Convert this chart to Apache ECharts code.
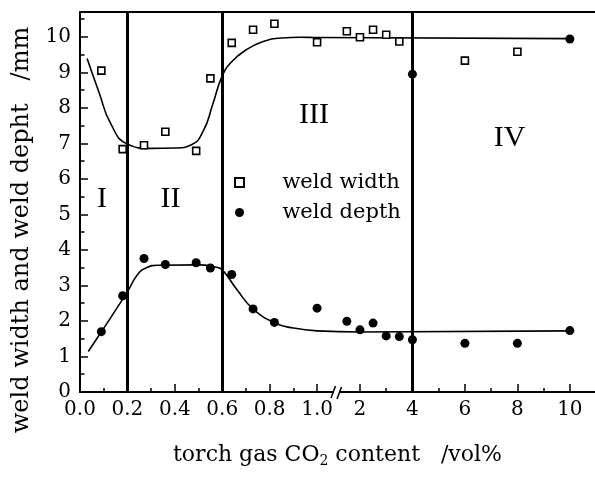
<!DOCTYPE html>
<html><head><meta charset="utf-8">
<script src="https://cdn.jsdelivr.net/npm/echarts@6/dist/echarts.min.js"></script>
<style>html,body{margin:0;padding:0;background:#fff}#c{width:595px;height:477px}</style>
</head><body><div id="c"></div>
<script>
// ---- data ----
const widthX = [0.09, 0.18, 0.27, 0.36, 0.49, 0.55, 0.64, 0.73, 0.82, 1.0, 1.5, 2, 2.5, 3, 3.5, 6, 8];
const widthY = [9.05, 6.84, 6.95, 7.33, 6.79, 8.83, 9.83, 10.2, 10.37, 9.85, 10.16, 9.99, 10.2, 10.06, 9.87, 9.33, 9.58];
const widthFilledX = [4, 10];
const widthFilledY = [8.95, 9.94];
const depthX = [0.09, 0.18, 0.27, 0.36, 0.49, 0.55, 0.64, 0.73, 0.82, 1.0, 1.5, 2, 2.5, 3, 3.5, 4, 6, 8, 10];
const depthY = [1.70, 2.71, 3.76, 3.59, 3.64, 3.49, 3.31, 2.34, 1.96, 2.36, 1.99, 1.75, 1.94, 1.58, 1.56, 1.47, 1.37, 1.37, 1.73];
const widthFitX = [0.03, 0.08, 0.13, 0.2, 0.3, 0.4, 0.47, 0.52, 0.56, 0.6, 0.64, 0.7, 0.77, 0.85, 0.93, 1.0, 10];
const widthFitY = [9.39, 8.44, 7.55, 6.98, 6.86, 6.87, 6.96, 7.35, 8.1, 8.9, 9.3, 9.63, 9.86, 9.97, 9.99, 9.98, 9.95];
const depthFitX = [0.035, 0.2, 0.24, 0.28, 0.33, 0.5, 0.57, 0.6, 0.66, 0.73, 0.82, 0.9, 1.0, 2, 10];
const depthFitY = [1.14, 2.82, 3.28, 3.5, 3.57, 3.58, 3.52, 3.44, 2.9, 2.34, 1.95, 1.80, 1.72, 1.69, 1.72];
const regionBounds = [0.2, 0.6, 4];
const regionNames = ['I', 'II', 'III', 'IV'];
const regionLabelX = [0.093, 0.382, 0.987, 7.70];
const regionLabelY = [5.42, 5.42, 7.79, 7.16];
const xTickValues = [0, 0.2, 0.4, 0.6, 0.8, 1.0, 2, 4, 6, 8, 10];
const xTickLabels = ['0.0', '0.2', '0.4', '0.6', '0.8', '1.0', '2', '4', '6', '8', '10'];
const xMinorValues = [0.1, 0.3, 0.5, 0.7, 0.9, 3, 5, 7, 9];
const yTickValues = [0, 1, 2, 3, 4, 5, 6, 7, 8, 9, 10];
const yMinorValues = [0.5, 1.5, 2.5, 3.5, 4.5, 5.5, 6.5, 7.5, 8.5, 9.5, 10.5];

// ---- broken x scale (linear 0..1, break, linear 1..10) ----
const BREAK = 1.0;
const LEFT_UNIT = 238;
const RIGHT_START = 254.7;
const RIGHT_UNIT = 26.34;
const X_EXTENT = 517;
const BREAK_MARK_U = 258;
function toU(x) { return x <= BREAK ? x * LEFT_UNIT : RIGHT_START + (x - BREAK) * RIGHT_UNIT; }
const pairs = (xs, ys) => xs.map((x, i) => [toU(x), ys[i]]);

const SERIF = 'DejaVu Serif';
const black = '#000';

const chart = echarts.init(document.getElementById('c'), null, {renderer: 'canvas'});
const xCommon = {type: 'value', min: 0, max: X_EXTENT, splitLine: {show: false}};
const yCommon = {type: 'value', min: 0, max: 10.7, splitLine: {show: false}};

chart.setOption({
  animation: false,
  backgroundColor: '#fff',
  grid: {left: 80, right: -2, top: 12, bottom: 85},
  legend: {
    data: ['weld width', 'weld depth'],
    orient: 'vertical', left: 229, top: 167,
    itemWidth: 9, itemHeight: 9, itemGap: 9,
    formatter: n => '     ' + n,
    textStyle: {fontFamily: SERIF, fontSize: 21, color: black}
  },
  xAxis: [
    Object.assign({}, xCommon, {
      position: 'bottom',
      name: '{a|torch gas CO}{b|2}{a| content   /vol%}',
      nameLocation: 'middle', nameGap: 52,
      nameTextStyle: {
        rich: {
          a: {fontFamily: SERIF, fontSize: 22, color: black, lineHeight: 24, verticalAlign: 'top'},
          b: {fontFamily: SERIF, fontSize: 14, color: black, lineHeight: 14, padding: [18, 0, 0, 0], verticalAlign: 'bottom'}
        }
      },
      axisLine: {show: true, lineStyle: {color: black, width: 2}},
      axisTick: {show: true, inside: true, length: 8, lineStyle: {color: black, width: 1.5}, customValues: xTickValues.map(toU)},
      axisLabel: {
        show: true, margin: 8, color: black, fontFamily: SERIF, fontSize: 20,
        customValues: xTickValues.map(toU),
        formatter: v => { const i = xTickValues.findIndex(t => Math.abs(toU(t) - v) < 1e-6); return i >= 0 ? xTickLabels[i] : ''; }
      }
    }),
    Object.assign({}, xCommon, {
      position: 'bottom',
      axisLine: {show: false},
      axisTick: {show: true, inside: true, length: 4, lineStyle: {color: black, width: 1.5}, customValues: xMinorValues.map(toU)},
      axisLabel: {show: false}
    }),
    Object.assign({}, xCommon, {
      position: 'top',
      axisLine: {show: true, lineStyle: {color: black, width: 2}},
      axisTick: {show: false}, axisLabel: {show: false}
    })
  ],
  yAxis: [
    Object.assign({}, yCommon, {
      position: 'left',
      name: 'weld width and weld depht   /mm',
      nameLocation: 'middle', nameGap: 46, nameRotate: 90,
      nameTextStyle: {fontFamily: SERIF, fontSize: 24, color: black, padding: [0, 56, 0, 0]},
      axisLine: {show: true, lineStyle: {color: black, width: 2}},
      axisTick: {show: true, inside: true, length: 8, lineStyle: {color: black, width: 1.5}, customValues: yTickValues},
      axisLabel: {show: true, margin: 9, color: black, fontFamily: SERIF, fontSize: 20, customValues: yTickValues}
    }),
    Object.assign({}, yCommon, {
      position: 'left',
      axisLine: {show: false},
      axisTick: {show: true, inside: true, length: 4.5, lineStyle: {color: black, width: 1.5}, customValues: yMinorValues},
      axisLabel: {show: false}
    })
  ],
  series: [
    {
      name: 'width fit', type: 'line', data: pairs(widthFitX, widthFitY),
      smooth: 0.5, showSymbol: false, symbol: 'none',
      lineStyle: {color: black, width: 1.6}, z: 3, silent: true,
      markLine: {
        silent: true, symbol: ['none', 'none'], label: {show: false},
        lineStyle: {color: black, width: 3, type: 'solid'},
        data: regionBounds.map(v => ({xAxis: toU(v)}))
      }
    },
    {
      name: 'depth fit', type: 'line', data: pairs(depthFitX, depthFitY),
      smooth: 0.5, showSymbol: false, symbol: 'none',
      lineStyle: {color: black, width: 1.6}, z: 3, silent: true
    },
    {
      name: 'weld width', type: 'scatter', data: pairs(widthX, widthY),
      symbol: 'rect', symbolSize: 7,
      itemStyle: {color: '#fff', borderColor: black, borderWidth: 1.6, opacity: 1}, z: 5
    },
    {
      name: 'weld depth', type: 'scatter', data: pairs(depthX, depthY),
      symbol: 'circle', symbolSize: 9,
      itemStyle: {color: black, opacity: 1}, z: 5
    },
    {
      name: 'weld width (filled marks)', type: 'scatter', data: pairs(widthFilledX, widthFilledY),
      symbol: 'circle', symbolSize: 9,
      itemStyle: {color: black, opacity: 1}, z: 5
    },
    {
      name: 'regions', type: 'scatter', symbolSize: 0, silent: true, z: 6,
      itemStyle: {opacity: 1},
      data: regionNames.map((n, i) => ({name: n, value: [toU(regionLabelX[i]), regionLabelY[i]]})),
      label: {show: true, position: 'inside', formatter: p => p.name, opacity: 1,
        fontFamily: 'Liberation Serif', fontSize: 30, color: black}
    },
    {
      name: 'axis break', type: 'custom', silent: true, clip: false, z: 10,
      data: [[BREAK_MARK_U, 0]],
      renderItem: (params, api) => {
        const p = api.coord([api.value(0), api.value(1)]);
        return {type: 'group', children: [
          {type: 'rect', shape: {x: p[0] - 3, y: p[1] - 2, width: 5, height: 4}, style: {fill: '#fff'}},
          {type: 'line', shape: {x1: p[0] - 6, y1: p[1] + 6, x2: p[0] - 1.5, y2: p[1] - 6}, style: {stroke: black, lineWidth: 1.5}},
          {type: 'line', shape: {x1: p[0] + 0, y1: p[1] + 7, x2: p[0] + 4.5, y2: p[1] - 5}, style: {stroke: black, lineWidth: 1.5}}
        ]};
      }
    }
  ]
});
</script>
</body></html>
